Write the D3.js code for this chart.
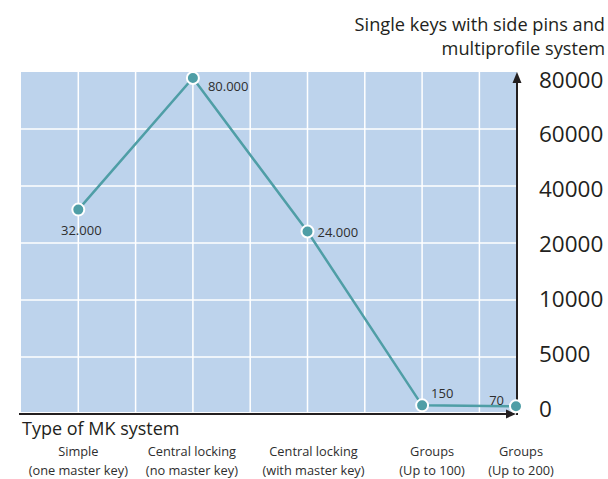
<!DOCTYPE html>
<html>
<head>
<meta charset="utf-8">
<script src="https://cdn.jsdelivr.net/npm/d3@7"></script>
<style>
  html, body { margin: 0; padding: 0; background: #fff; }
  svg { display: block; font-family: "Open Sans", "Noto Sans", sans-serif; }
</style>
</head>
<body>
<svg id="chart" width="608" height="479"></svg>
<script>
// Master-key system types (two-line labels) and key counts
const categories = ["simple", "centralNoMaster", "centralWithMaster", "groups100", "groups200"];
const categoryLines = [
  ["Simple", "(one master key)"],
  ["Central locking", "(no master key)"],
  ["Central locking", "(with master key)"],
  ["Groups", "(Up to 100)"],
  ["Groups", "(Up to 200)"]
];
const keyCounts = [32000, 80000, 24000, 150, 70];
const yTickValues = [0, 5000, 10000, 20000, 40000, 60000, 80000];
const yTitleLines = ["Single keys with side pins and", "multiprofile system"];
const xTitle = "Type of MK system";

// layout
const W = 608, H = 479;
const plot = { left: 21, right: 517, top: 72, bottom: 414 };
const colW = 57.3;
const rows = 6;
const markTop = 78, markBottom = 407;

const colors = {
  bg: "#bdd3ec",
  grid: "#ffffff",
  line: "#4f9ea6",
  axis: "#231f20",
  text: "#231f20",
  label: "#2e2e2e"
};

const svg = d3.select("#chart");

// piecewise-linear value axis: ticks evenly spaced
const y = d3.scaleLinear()
  .domain(yTickValues)
  .range(yTickValues.map((d, i) => markBottom - i * (markBottom - markTop) / (yTickValues.length - 1)));

// category positions sit on alternate grid columns, last one on the value axis
const x = d3.scaleOrdinal()
  .domain(categories)
  .range([1, 3, 5, 7].map(c => plot.left + c * colW).concat([plot.right - 1]));

const fmt = d3.formatLocale({ decimal: ",", thousands: ".", grouping: [3], currency: ["", "€"] }).format(",");

// plot background
svg.append("rect")
  .attr("x", plot.left).attr("y", plot.top)
  .attr("width", plot.right - plot.left).attr("height", plot.bottom - plot.top - 2)
  .attr("fill", colors.bg);

// grid
const grid = svg.append("g").attr("stroke", colors.grid).attr("stroke-width", 1.5);
d3.range(1, 9).forEach(i => {
  const gx = plot.left + i * colW;
  grid.append("line").attr("x1", gx).attr("x2", gx).attr("y1", plot.top).attr("y2", plot.bottom - 2);
});
d3.range(1, rows).forEach(i => {
  const gy = plot.top + i * (plot.bottom - plot.top) / rows;
  grid.append("line").attr("x1", plot.left).attr("x2", plot.right).attr("y1", gy).attr("y2", gy);
});

// axes with arrowheads
const axes = svg.append("g");
axes.append("line")
  .attr("x1", 19).attr("x2", plot.right - 6).attr("y1", plot.bottom).attr("y2", plot.bottom)
  .attr("stroke", colors.axis).attr("stroke-width", 2);
axes.append("path")
  .attr("d", `M${plot.right - 1},${plot.bottom} L${plot.right - 11},${plot.bottom - 4.5} L${plot.right - 11},${plot.bottom + 4.5}Z`)
  .attr("fill", colors.axis);
axes.append("line")
  .attr("x1", plot.right).attr("x2", plot.right).attr("y1", plot.bottom + 1).attr("y2", plot.top + 8)
  .attr("stroke", colors.axis).attr("stroke-width", 2);
axes.append("path")
  .attr("d", `M${plot.right},${plot.top} L${plot.right - 4.5},${plot.top + 11} L${plot.right + 4.5},${plot.top + 11}Z`)
  .attr("fill", colors.axis);

// value tick labels
svg.append("g").selectAll("text")
  .data(yTickValues)
  .join("text")
  .attr("x", 539)
  .attr("y", d => y(d) + 1)
  .attr("dominant-baseline", "central")
  .attr("font-size", 22.5)
  .attr("fill", colors.text)
  .text(d => d);

// value axis title
svg.append("g").selectAll("text")
  .data(yTitleLines)
  .join("text")
  .attr("x", 605)
  .attr("y", (d, i) => 24 + i * 24)
  .attr("dominant-baseline", "central")
  .attr("text-anchor", "end")
  .attr("font-size", 18.2)
  .attr("fill", colors.text)
  .text(d => d);

// category axis title
svg.append("text")
  .attr("x", 22).attr("y", 428)
  .attr("dominant-baseline", "central")
  .attr("font-size", 18)
  .attr("fill", colors.text)
  .text(xTitle);

// category labels
const catNudge = [0, -1, 6, 10, 5];
const catG = svg.append("g").selectAll("g")
  .data(categories)
  .join("g")
  .attr("transform", (d, i) => `translate(${x(d) + catNudge[i]},0)`);
catG.selectAll("text")
  .data((d, i) => categoryLines[i])
  .join("text")
  .attr("x", 0)
  .attr("y", (d, j) => 451 + j * 19)
  .attr("dominant-baseline", "central")
  .attr("text-anchor", "middle")
  .attr("font-size", 12.8)
  .attr("fill", colors.label)
  .text(d => d);

// series line
const series = categories.map((c, i) => ({ c, v: keyCounts[i] }));
svg.append("path")
  .datum(series)
  .attr("fill", "none")
  .attr("stroke", colors.line)
  .attr("stroke-width", 2.5)
  .attr("d", d3.line().x(d => x(d.c)).y(d => y(d.v)));

// markers
svg.append("g").selectAll("circle")
  .data(series)
  .join("circle")
  .attr("cx", d => x(d.c))
  .attr("cy", d => y(d.v))
  .attr("r", 6)
  .attr("fill", colors.line)
  .attr("stroke", "#fff")
  .attr("stroke-width", 2);

// value labels
const labelPlacement = [
  { dx: 3, dy: 20, anchor: "middle" },
  { dx: 15, dy: 8, anchor: "start" },
  { dx: 10, dy: 0, anchor: "start" },
  { dx: 9, dy: -12, anchor: "start" },
  { dx: -12, dy: -6, anchor: "end" }
];
svg.append("g").selectAll("text")
  .data(series)
  .join("text")
  .attr("x", (d, i) => x(d.c) + labelPlacement[i].dx)
  .attr("y", (d, i) => y(d.v) + labelPlacement[i].dy)
  .attr("dominant-baseline", "central")
  .attr("text-anchor", (d, i) => labelPlacement[i].anchor)
  .attr("font-size", 13)
  .attr("fill", colors.label)
  .text(d => fmt(d.v));
</script>
</body>
</html>
